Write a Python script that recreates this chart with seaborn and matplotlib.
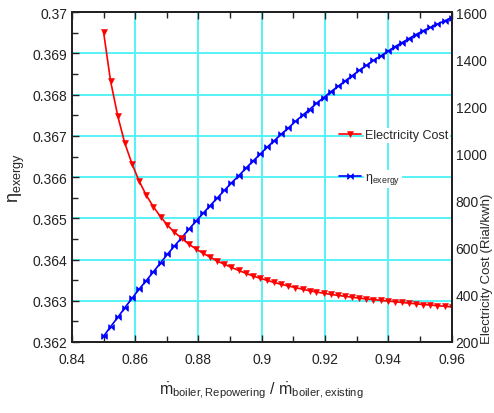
import matplotlib
matplotlib.use('Agg')
import matplotlib.pyplot as plt
from matplotlib.ticker import MultipleLocator, FuncFormatter
import seaborn as sns

# mass flow ratio (boiler repowering / boiler existing), 50 samples
flow_ratio = [0.8500, 0.8522, 0.8545, 0.8567, 0.8590, 0.8612, 0.8635, 0.8657, 0.8680, 0.8702,
              0.8724, 0.8747, 0.8769, 0.8792, 0.8814, 0.8837, 0.8859, 0.8882, 0.8904, 0.8927,
              0.8949, 0.8971, 0.8994, 0.9016, 0.9039, 0.9061, 0.9084, 0.9106, 0.9129, 0.9151,
              0.9173, 0.9196, 0.9218, 0.9241, 0.9263, 0.9286, 0.9308, 0.9331, 0.9353, 0.9376,
              0.9398, 0.9420, 0.9443, 0.9465, 0.9488, 0.9510, 0.9533, 0.9555, 0.9578, 0.9600]

# exergy efficiency (left axis)
eta_exergy = [0.36214, 0.36237, 0.36260, 0.36283, 0.36306, 0.36328, 0.36349, 0.36370, 0.36392, 0.36413,
              0.36433, 0.36453, 0.36473, 0.36493, 0.36512, 0.36531, 0.36549, 0.36568, 0.36586, 0.36603,
              0.36621, 0.36638, 0.36655, 0.36672, 0.36688, 0.36704, 0.36719, 0.36735, 0.36750, 0.36764,
              0.36779, 0.36793, 0.36807, 0.36820, 0.36833, 0.36846, 0.36859, 0.36871, 0.36883, 0.36894,
              0.36905, 0.36916, 0.36926, 0.36936, 0.36946, 0.36955, 0.36963, 0.36971, 0.36979, 0.36987]

# electricity cost in Rial/kwh (right axis)
elec_cost = [1515, 1308, 1158, 1044, 956, 884, 823, 775, 732, 696,
             666, 640, 616, 595, 577, 560, 544, 530, 517, 504,
             492, 481, 471, 462, 453, 445, 438, 431, 424, 418,
             412, 407, 402, 398, 394, 390, 386, 383, 380, 377,
             374, 371, 368, 365, 362, 359, 357, 354, 352, 349]

sns.set_style('ticks')
plt.rcParams['font.family'] = ['Liberation Sans', 'DejaVu Sans']
plt.rcParams['mathtext.fontset'] = 'custom'
plt.rcParams['mathtext.rm'] = 'Liberation Sans'
plt.rcParams['mathtext.it'] = 'Liberation Sans:italic'
plt.rcParams['xtick.direction'] = 'in'
plt.rcParams['ytick.direction'] = 'in'

fig = plt.figure(figsize=(4.94, 4.14), dpi=100)
ax = fig.add_axes([0.1457, 0.1715, 0.7683, 0.7965])
ax2 = ax.twinx()

# bow-tie marker like the original
bowtie = [(-1, -1), (1, 1), (1, -1), (-1, 1), (-1, -1)]

sns.lineplot(x=flow_ratio, y=eta_exergy, ax=ax, color='#0000ff', lw=1.2,
             marker=bowtie, markersize=4, markeredgewidth=0.6, markeredgecolor='#0000ff',
             label=r'$\mathrm{\eta}_{\mathrm{exergy}}$', legend=False)
sns.lineplot(x=flow_ratio, y=elec_cost, ax=ax2, color='#ff0000', lw=1.2,
             marker='v', markersize=4, markeredgewidth=0.4, markeredgecolor='#ff0000',
             label='Electricity Cost', legend=False)

ax.set_xlim(0.84, 0.96)
ax.set_ylim(0.362, 0.37)
ax2.set_ylim(200, 1600)

ax.xaxis.set_major_locator(MultipleLocator(0.02))
ax.xaxis.set_minor_locator(MultipleLocator(0.01))
ax.yaxis.set_major_locator(MultipleLocator(0.001))
ax.yaxis.set_minor_locator(MultipleLocator(0.0005))
ax2.yaxis.set_major_locator(MultipleLocator(200))
ax.xaxis.set_major_formatter(FuncFormatter(lambda v, p: '{:g}'.format(round(v, 2))))
ax.yaxis.set_major_formatter(FuncFormatter(lambda v, p: '{:g}'.format(round(v, 3))))

ax.grid(True, which='major', color='#55f2f7', lw=1.4)
ax.set_axisbelow(True)
ax.tick_params(which='both', top=True, labelsize=10, colors='#222222', width=1)
ax.tick_params(which='major', length=5)
ax.tick_params(which='minor', length=4)
ax.tick_params(axis='x', pad=7)
ax2.tick_params(labelsize=10, colors='#222222', length=0, pad=3)

for a in (ax, ax2):
    for s in a.spines.values():
        s.set_linewidth(1.4)
        s.set_color('#222222')

ax.set_xlabel(r'$\dot{\mathrm{m}}_{\mathrm{boiler,Repowering}}$ / $\dot{\mathrm{m}}_{\mathrm{boiler,existing}}$',
              fontsize=11.5, labelpad=10)
ax.set_ylabel(r'$\mathrm{\eta}_{\mathrm{exergy}}$', fontsize=13, labelpad=4)
ax2.set_ylabel('Electricity Cost (Rial/kwh)', fontsize=9.5)
ax2.yaxis.set_label_coords(1.078, 0.225)

# legend with white boxes behind the text only
h1, l1 = ax2.get_legend_handles_labels()
h2, l2 = ax.get_legend_handles_labels()
leg = ax2.legend(h1 + h2, l1 + l2, loc='upper left', bbox_to_anchor=(0.69, 0.66),
                 frameon=False, fontsize=9, labelspacing=2.4, handlelength=1.8,
                 handletextpad=0.3, borderaxespad=0)
for t in leg.get_texts():
    t.set_bbox(dict(facecolor='white', edgecolor='none', pad=1))

plt.savefig('out.png', dpi=100)
